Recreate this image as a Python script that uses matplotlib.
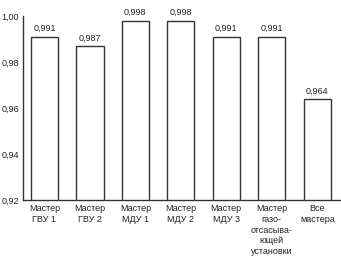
import matplotlib.pyplot as plt

labels = ['Мастер\nГВУ 1', 'Мастер\nГВУ 2', 'Мастер\nМДУ 1', 'Мастер\nМДУ 2',
          'Мастер\nМДУ 3', 'Мастер\nгазо-\nотсасыва-\nющей\nустановки', 'Все\nмастера']
values = [0.991, 0.987, 0.998, 0.998, 0.991, 0.991, 0.964]
yticks = [0.92, 0.94, 0.96, 0.98, 1.00]

plt.rcParams['font.family'] = ['Liberation Sans', 'DejaVu Sans']

fig = plt.figure(figsize=(3.41, 2.57), dpi=100)
ax = fig.add_axes([23 / 341, 1 - 200 / 257, 317 / 341, 184 / 257])

x = range(len(values))
bars = ax.bar(x, values, width=0.6, color='white', edgecolor='#333333', linewidth=1.0)
for b, v in zip(bars, values):
    ax.text(b.get_x() + b.get_width() / 2, v + 0.0015, f'{v:.3f}'.replace('.', ','),
            ha='center', va='bottom', fontsize=6.5, color='#222222')

ax.set_ylim(0.92, 1.00)
ax.set_xlim(-0.47, 6.5)
ax.set_yticks(yticks)
ax.set_yticklabels([f'{t:.2f}'.replace('.', ',') for t in yticks])
ax.set_xticks(list(x))
ax.set_xticklabels(labels, linespacing=1.25)
ax.tick_params(axis='both', labelsize=6.5, colors='#222222', length=0, pad=3)
ax.spines['top'].set_visible(False)
ax.spines['right'].set_visible(False)
for s in ('left', 'bottom'):
    ax.spines[s].set_color('#333333')
    ax.spines[s].set_linewidth(1.0)

fig.savefig('out.png', dpi=100)
